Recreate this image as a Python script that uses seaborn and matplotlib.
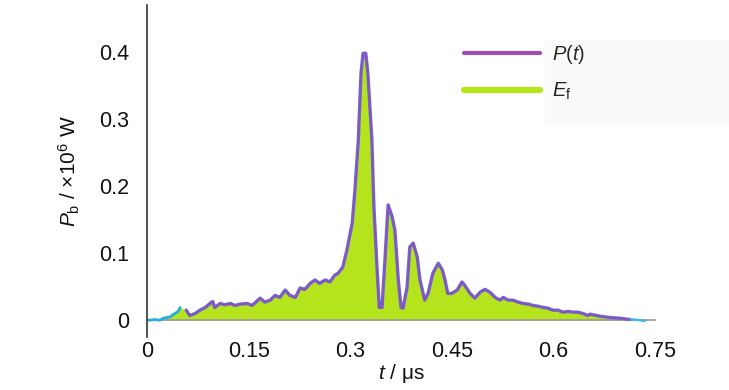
import numpy as np
import pandas as pd
import matplotlib
matplotlib.use("Agg")
import matplotlib.pyplot as plt
from matplotlib.lines import Line2D
from matplotlib.patches import Rectangle
import seaborn as sns

# start of the trace (cyan), t in microseconds, P in 1e6 W
t_start = [0.003, 0.012, 0.019, 0.024, 0.029, 0.034, 0.041, 0.046, 0.049]
p_start = [0.000, 0.001, 0.000, 0.003, 0.004, 0.005, 0.010, 0.013, 0.019]

# main trace P(t)
t_main = [0.058, 0.063, 0.071, 0.078, 0.086, 0.093, 0.097, 0.100, 0.108, 0.115,
          0.123, 0.130, 0.137, 0.148, 0.155, 0.164, 0.167, 0.174, 0.182, 0.189,
          0.196, 0.204, 0.211, 0.219, 0.226, 0.233, 0.241, 0.248, 0.255, 0.263,
          0.270, 0.277, 0.282, 0.289, 0.295, 0.303, 0.307, 0.312, 0.316, 0.319,
          0.323, 0.326, 0.332, 0.335, 0.340, 0.343, 0.347, 0.351, 0.356, 0.362,
          0.366, 0.371, 0.375, 0.378, 0.384, 0.388, 0.393, 0.399, 0.403, 0.410,
          0.415, 0.422, 0.430, 0.436, 0.440, 0.444, 0.450, 0.458, 0.465, 0.469,
          0.477, 0.484, 0.492, 0.499, 0.506, 0.514, 0.521, 0.526, 0.533, 0.540,
          0.548, 0.555, 0.563, 0.570, 0.577, 0.585, 0.592, 0.599, 0.607, 0.614,
          0.622, 0.629, 0.636, 0.644, 0.651, 0.654, 0.669, 0.684, 0.698, 0.713]
p_main = [0.015, 0.007, 0.010, 0.015, 0.019, 0.025, 0.028, 0.019, 0.025, 0.023,
          0.025, 0.022, 0.024, 0.025, 0.022, 0.030, 0.033, 0.027, 0.030, 0.037,
          0.034, 0.045, 0.037, 0.034, 0.048, 0.046, 0.055, 0.060, 0.055, 0.060,
          0.057, 0.067, 0.070, 0.079, 0.104, 0.145, 0.194, 0.269, 0.369, 0.398,
          0.398, 0.369, 0.269, 0.169, 0.070, 0.019, 0.019, 0.085, 0.172, 0.154,
          0.134, 0.060, 0.019, 0.018, 0.049, 0.109, 0.115, 0.094, 0.060, 0.030,
          0.040, 0.070, 0.085, 0.075, 0.060, 0.040, 0.040, 0.045, 0.057, 0.052,
          0.040, 0.033, 0.042, 0.046, 0.042, 0.034, 0.030, 0.034, 0.030, 0.030,
          0.027, 0.025, 0.024, 0.022, 0.021, 0.019, 0.018, 0.015, 0.015, 0.012,
          0.013, 0.012, 0.012, 0.010, 0.007, 0.009, 0.006, 0.004, 0.003, 0.001]

# tail of the trace (cyan)
t_end = [0.713, 0.720, 0.728, 0.735]
p_end = [0.001, 0.001, 0.000, -0.001]

x_ticks = [0, 0.15, 0.3, 0.45, 0.6, 0.75]
x_tick_labels = ["0", "0.15", "0.3", "0.45", "0.6", "0.75"]
y_ticks = [0, 0.1, 0.2, 0.3, 0.4]
y_tick_labels = ["0", "0.1", "0.2", "0.3", "0.4"]

sns.set_style("white")
plt.rcParams['font.family'] = ['Liberation Sans Narrow', 'Liberation Sans', 'DejaVu Sans']
plt.rcParams['mathtext.fontset'] = 'custom'
plt.rcParams['mathtext.rm'] = 'Liberation Sans'
plt.rcParams['mathtext.it'] = 'Liberation Sans:italic'

fig = plt.figure(figsize=(7.29, 3.90), dpi=100)
fig.patches.append(Rectangle((545 / 729, 1 - 125 / 390), 184 / 729, 85 / 390,
                             transform=fig.transFigure, color='#fafaf9', zorder=-5))
ax = fig.add_axes([147 / 729, 1 - 337 / 390, 508 / 729, 332 / 390])
ax.patch.set_alpha(0)

main = pd.DataFrame({"t": t_main, "P": p_main})
start = pd.DataFrame({"t": t_start, "P": p_start})
end = pd.DataFrame({"t": t_end, "P": p_end})

t_all = t_start + t_main + t_end
p_all = p_start + p_main + p_end
ax.fill_between(t_all, 0, np.clip(p_all, 0, None), color='#b5e41c', lw=0, zorder=1)

sns.lineplot(data=main, x="t", y="P", ax=ax, color='#5f6ddc', lw=2.4, zorder=3)
sns.lineplot(data=main, x="t", y="P", ax=ax, color='#9a4cb4', lw=1.1, zorder=4)
sns.lineplot(data=start, x="t", y="P", ax=ax, color='#22aee0', lw=2.0, zorder=3)
sns.lineplot(data=end, x="t", y="P", ax=ax, color='#40b8e8', lw=1.8, zorder=3)

ax.set_xlim(0, 0.75)
ax.set_ylim(-0.025, 0.47)
ax.set_xticks(x_ticks)
ax.set_xticklabels(x_tick_labels)
ax.set_yticks(y_ticks)
ax.set_yticklabels(y_tick_labels)

for side in ['top', 'right']:
    ax.spines[side].set_visible(False)
ax.spines['bottom'].set_position(('data', 0))
ax.spines['bottom'].set_color('#9a9a9a')
ax.spines['bottom'].set_linewidth(1.2)
ax.spines['bottom'].set_zorder(2)
ax.spines['left'].set_color('#333333')
ax.spines['left'].set_linewidth(1.2)

ax.tick_params(axis='x', direction='out', length=13, width=1.2, color='#8a8a8a',
               labelsize=15.5, pad=2, labelcolor='#111111')
ax.tick_params(axis='y', direction='out', length=12, width=1.0, color='#8a8a8a',
               labelsize=15.5, pad=1, labelcolor='#111111')

ax.set_xlabel("$t$ / \u03bcs", fontsize=15, labelpad=0, color='#111111')
ax.set_ylabel("$P_\\mathrm{b}$ / \u00d710$^6$ W", fontsize=15, labelpad=12, color='#111111')
ax.xaxis.set_label_coords(0.5, -0.075)

handles = [Line2D([], [], color='#a04cb0', lw=3),
           Line2D([], [], color='#b5e41c', lw=4.5)]
ax.legend(handles, ["$P$($t$)", "$E_\\mathrm{f}$"], loc='upper left',
          bbox_to_anchor=(0.588, 0.94), frameon=False, fontsize=14.5,
          handlelength=3.8, handletextpad=0.6, labelspacing=0.75)

fig.savefig("out.png", dpi=100)
